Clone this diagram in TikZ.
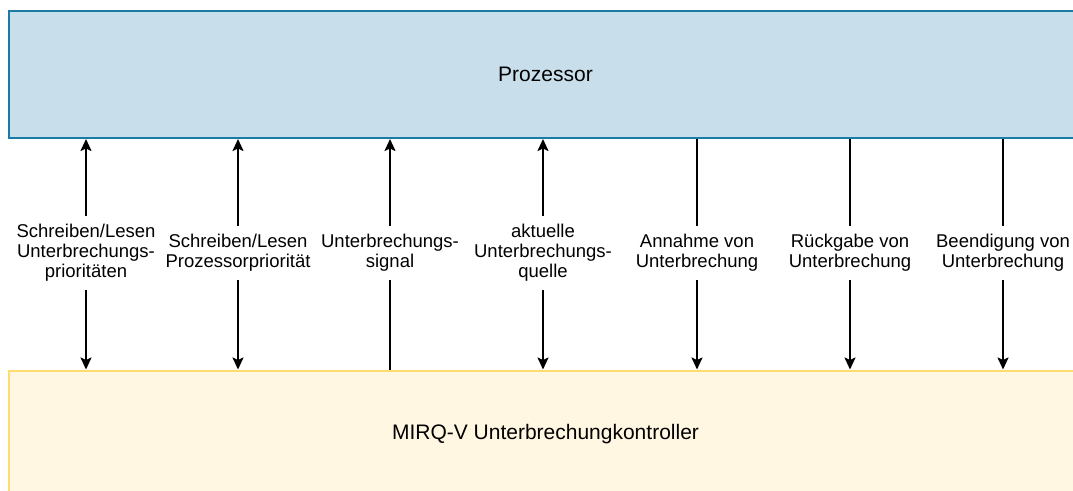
\documentclass[tikz,border=0pt]{standalone}
\usepackage{fontspec}
\setmainfont{Liberation Sans}
\usetikzlibrary{arrows.meta}
\definecolor{procfill}{HTML}{C8DFEB}
\definecolor{procdraw}{HTML}{1A7BA5}
\definecolor{ctrlfill}{HTML}{FFF7E1}
\definecolor{ctrldraw}{HTML}{FFDC70}
\tikzset{
  bigbox/.style={rectangle, minimum width=1073pt, minimum height=127pt, line width=2pt, inner sep=0pt,
    font=\fontsize{21}{24}\selectfont},
  procbox/.style={bigbox, fill=procfill, draw=procdraw},
  ctrlbox/.style={bigbox, fill=ctrlfill, draw=ctrldraw},
  lbl/.style={fill=white, align=center, inner xsep=2pt, inner ysep=8pt,
    font=\fontsize{18.5}{20}\selectfont},
  conn/.style={line width=2pt, black},
  tip/.tip={Stealth[length=12pt,width=11pt,inset=2.5pt]}
}
\begin{document}
\begin{tikzpicture}[x=1pt,y=-1pt]
\useasboundingbox (0,0) rectangle (1073,490);
\clip (0,0) rectangle (1073,490);
\node[procbox] (proc) at (545.5,74.5) {Prozessor};
\node[ctrlbox] (ctrl) at (545.5,434) {MIRQ-V Unterbrechungkontroller};

\coordinate (c1) at (86,253);
\coordinate (c2) at (238,253);
\coordinate (c3) at (390,253);
\coordinate (c4) at (543,253);
\coordinate (c5) at (697,253);
\coordinate (c6) at (850,253);
\coordinate (c7) at (1003,253);

\draw[conn, {tip}-{tip}] (proc.south -| c1) -- (ctrl.north -| c1);
\draw[conn, {tip}-{tip}] (proc.south -| c2) -- (ctrl.north -| c2);
\draw[conn, {tip}-] (proc.south -| c3) -- (ctrl.north -| c3);
\draw[conn, {tip}-{tip}] (proc.south -| c4) -- (ctrl.north -| c4);
\draw[conn, -{tip}] (proc.south -| c5) -- (ctrl.north -| c5);
\draw[conn, -{tip}] (proc.south -| c6) -- (ctrl.north -| c6);
\draw[conn, -{tip}] (proc.south -| c7) -- (ctrl.north -| c7);

\node[lbl] (l1) at (c1) {Schreiben/Lesen\\Unterbrechungs-\\prioritäten};
\node[lbl] (l2) at (c2) {Schreiben/Lesen\\Prozessorpriorität};
\node[lbl] (l3) at (c3) {Unterbrechungs-\\signal};
\node[lbl] (l4) at (c4) {aktuelle\\Unterbrechungs-\\quelle};
\node[lbl] (l5) at (c5) {Annahme von\\Unterbrechung};
\node[lbl] (l6) at (c6) {Rückgabe von\\Unterbrechung};
\node[lbl] (l7) at (c7) {Beendigung von\\Unterbrechung};
\end{tikzpicture}
\end{document}
